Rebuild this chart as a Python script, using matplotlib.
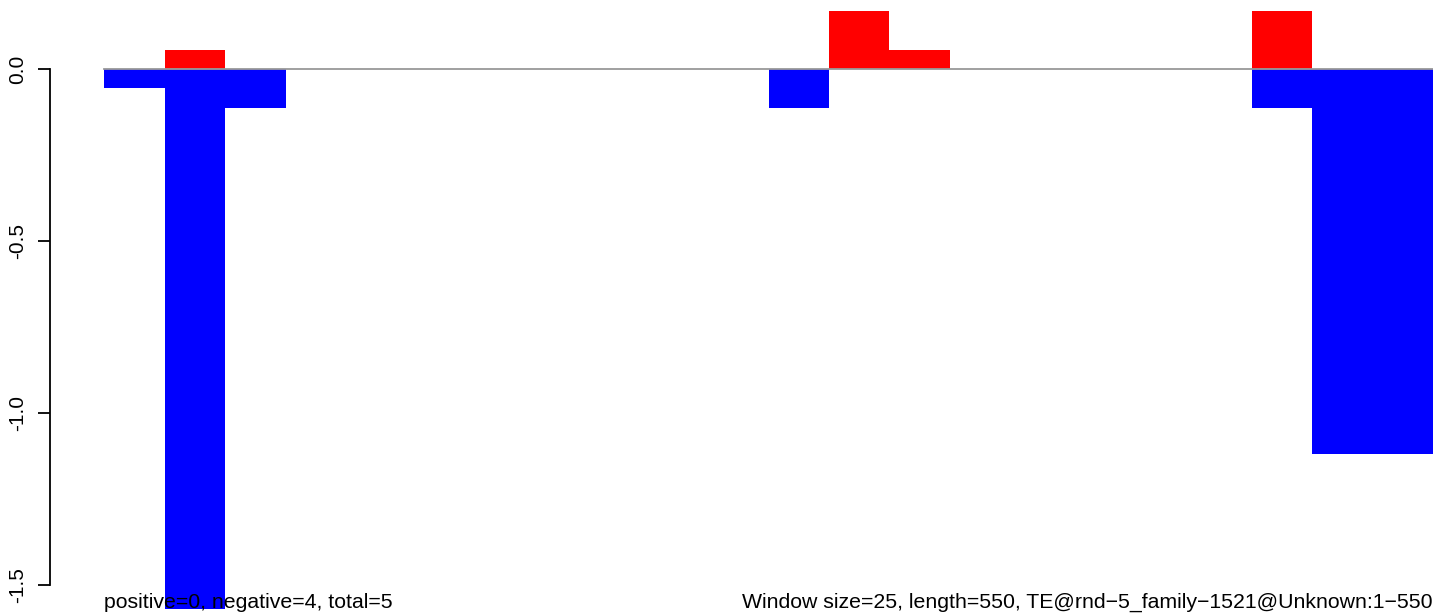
import numpy as np
import matplotlib
matplotlib.use("Agg")
import matplotlib.pyplot as plt

plt.rcParams["font.family"] = ["Liberation Sans", "DejaVu Sans"]
plt.rcParams["axes.unicode_minus"] = False

# window index (window size 25, length 550 -> 22 windows)
n_windows = 22
neg_windows = [0, 1, 2, 11, 19, 20, 21]
neg_values = [-0.056, -1.60, -0.112, -0.112, -0.112, -1.12, -1.12]
pos_windows = [1, 12, 13, 19]
pos_values = [0.056, 0.168, 0.056, 0.168]

yticks = [0.0, -0.5, -1.0, -1.5]
ytick_labels = ["0.0", "-0.5", "-1.0", "-1.5"]

left_text = "positive=0, negative=4, total=5"
right_text = "Window size=25, length=550, TE@rnd\u22125_family\u22121521@Unknown:1\u2212550"

W, H = 1433, 615
fig = plt.figure(figsize=(W / 100, H / 100), dpi=100)
ax = fig.add_axes([50 / W, 1 - 609 / H, (W - 50) / W, (609 - 11) / H])

bw = 1.0
ax.bar(pos_windows, pos_values, width=bw, align="edge", color="red", linewidth=0, zorder=2)
ax.bar(neg_windows, neg_values, width=bw, align="edge", color="blue", linewidth=0, zorder=2)
ax.plot([0, n_windows], [0, 0], color="#999999", lw=1.3, zorder=3, clip_on=False)

ax.set_xlim(-0.9, n_windows)
ax.set_ylim(-1.570, 0.1686)

for s in ["top", "right", "bottom"]:
    ax.spines[s].set_visible(False)
ax.spines["left"].set_bounds(-1.5, 0.0)
ax.spines["left"].set_linewidth(1.3)
ax.set_xticks([])
ax.set_yticks(yticks)
ax.set_yticklabels(ytick_labels, rotation=90, va="center", fontsize=15)
ax.tick_params(axis="y", length=8.6, width=1.3, pad=8)

fig.text(104 / W, 1 - 608 / H, left_text, ha="left", va="baseline", fontsize=15.3, zorder=5)
fig.text(1432 / W, 1 - 608 / H, right_text, ha="right", va="baseline", fontsize=15.3, zorder=5)

fig.savefig("out.png", dpi=100)
